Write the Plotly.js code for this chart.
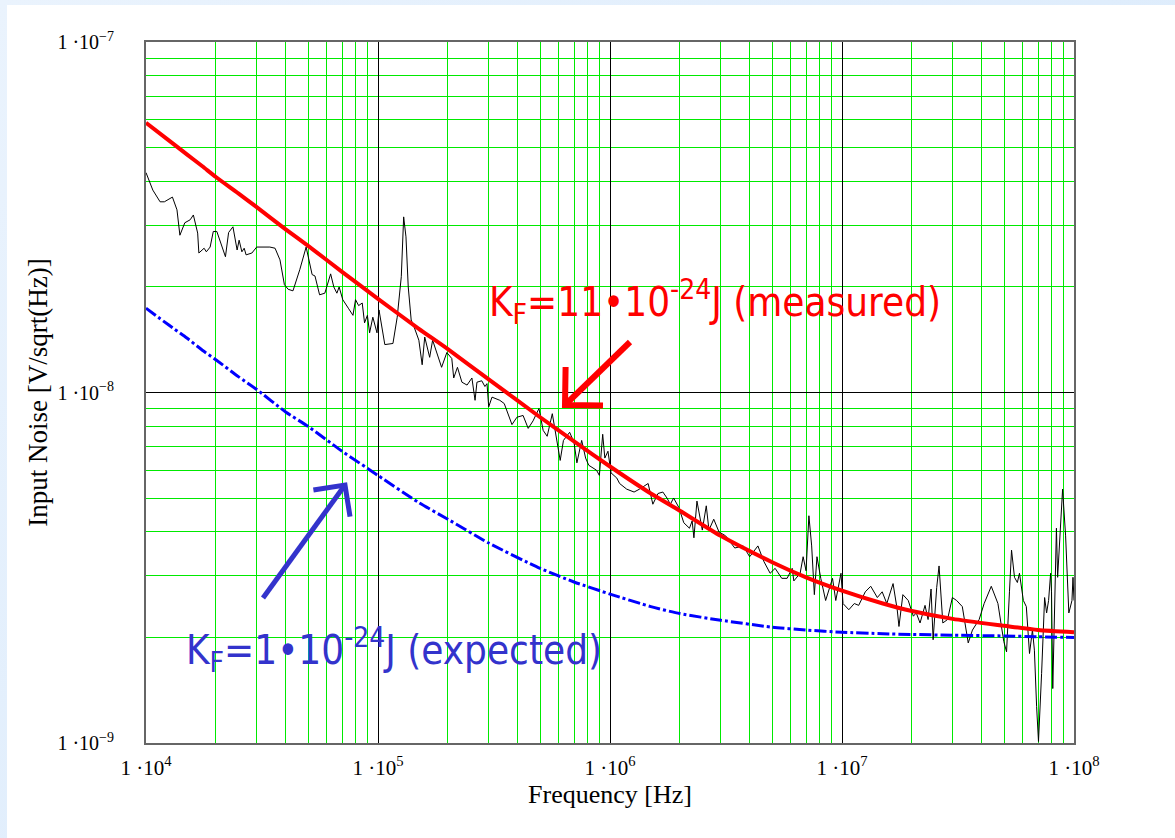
<!DOCTYPE html>
<html>
<head>
<meta charset="utf-8">
<script src="https://cdn.plot.ly/plotly-3.0.1.min.js"></script>
<style>
  html, body { margin: 0; padding: 0; width: 1175px; height: 838px; overflow: hidden;
    background: linear-gradient(135deg, #eaf3fd 0%, #d6e8fb 100%); }
  #chart { position: absolute; left: 7px; top: 5px; width: 1168px; height: 833px; background: #fff; }
</style>
</head>
<body>
<div id="chart"></div>
<script>
// Measured input noise spectrum (black trace)
const freqHz = [
1.0e4,1.07e4,1.15e4,1.2e4,1.3e4,1.36e4,1.4e4,1.47e4,1.55e4,1.6e4,
1.67e4,1.69e4,1.78e4,1.82e4,1.89e4,1.95e4,2.02e4,2.13e4,2.2e4,2.27e4,
2.37e4,2.47e4,2.52e4,2.59e4,2.65e4,2.7e4,2.86e4,3.0e4,3.2e4,3.42e4,
3.6e4,3.78e4,3.95e4,4.1e4,4.3e4,4.6e4,4.9e4,5.05e4,5.2e4,5.35e4,
5.6e4,5.9e4,6.25e4,6.45e4,6.65e4,6.8e4,7.05e4,7.45e4,7.8e4,8.0e4,
8.25e4,8.55e4,8.75e4,9.0e4,9.2e4,9.5e4,9.9e4,1.01e5,1.03e5,1.07e5,
1.16e5,1.21e5,1.26e5,1.29e5,1.32e5,1.35e5,1.39e5,1.43e5,1.5e5,1.55e5,
1.59e5,1.67e5,1.72e5,1.79e5,1.88e5,1.98e5,2.08e5,2.12e5,2.2e5,2.3e5,
2.42e5,2.54e5,2.62e5,2.67e5,2.8e5,2.89e5,2.95e5,3.0e5,3.1e5,3.35e5,
3.5e5,3.78e5,3.97e5,4.22e5,4.44e5,4.66e5,4.94e5,5.15e5,5.36e5,5.64e5,
5.8e5,6.1e5,6.3e5,6.7e5,7.0e5,7.2e5,7.55e5,7.85e5,8.1e5,8.75e5,
9.0e5,9.3e5,9.5e5,9.8e5,1.01e6,1.07e6,1.1e6,1.18e6,1.27e6,1.34e6,
1.46e6,1.53e6,1.61e6,1.69e6,1.76e6,1.82e6,1.88e6,1.98e6,2.08e6,2.2e6,
2.26e6,2.3e6,2.37e6,2.44e6,2.5e6,2.6e6,2.67e6,2.8e6,2.95e6,3.15e6,
3.45e6,3.75e6,4.0e6,4.34e6,4.6e6,4.9e6,5.15e6,5.5e6,5.8e6,6.1e6,
6.2e6,6.6e6,6.8e6,7.0e6,7.2e6,7.4e6,7.6e6,7.8e6,8.1e6,8.5e6,
9.1e6,9.4e6,9.9e6,1.01e7,1.07e7,1.13e7,1.18e7,1.26e7,1.33e7,1.42e7,
1.49e7,1.56e7,1.66e7,1.73e7,1.76e7,1.83e7,1.93e7,2.03e7,2.09e7,2.17e7,
2.28e7,2.35e7,2.42e7,2.47e7,2.56e7,2.62e7,2.72e7,2.85e7,2.99e7,3.12e7,
3.3e7,3.5e7,3.65e7,3.9e7,4.1e7,4.4e7,4.7e7,4.98e7,5.12e7,5.27e7,
5.38e7,5.54e7,5.7e7,5.82e7,6.05e7,6.23e7,6.43e7,6.62e7,6.75e7,6.9e7,
7.03e7,7.25e7,7.47e7,7.62e7,7.77e7,7.93e7,8.0e7,8.1e7,8.25e7,8.4e7,
8.5e7,8.75e7,8.93e7,9.2e7,9.5e7,9.8e7,9.9e7,1.0e8];
const measuredNoise = [
4.24e-8,3.78e-8,3.50e-8,3.50e-8,3.61e-8,3.32e-8,2.81e-8,3.05e-8,3.11e-8,3.21e-8,
2.85e-8,2.50e-8,2.58e-8,2.52e-8,2.60e-8,2.88e-8,2.88e-8,2.60e-8,2.44e-8,2.86e-8,
2.97e-8,2.55e-8,2.72e-8,2.52e-8,2.58e-8,2.47e-8,2.50e-8,2.60e-8,2.60e-8,2.60e-8,
2.58e-8,2.39e-8,2.03e-8,1.97e-8,1.95e-8,2.24e-8,2.60e-8,2.39e-8,2.17e-8,2.15e-8,
1.90e-8,1.92e-8,2.18e-8,2.00e-8,1.92e-8,2.00e-8,1.84e-8,1.74e-8,1.66e-8,1.84e-8,
1.77e-8,1.80e-8,1.58e-8,1.66e-8,1.48e-8,1.64e-8,1.48e-8,1.72e-8,1.58e-8,1.37e-8,
1.38e-8,1.64e-8,2.14e-8,3.17e-8,2.78e-8,2.00e-8,1.61e-8,1.54e-8,1.41e-8,1.20e-8,
1.44e-8,1.26e-8,1.41e-8,1.30e-8,1.18e-8,1.30e-8,1.25e-8,1.10e-8,1.18e-8,1.07e-8,
1.05e-8,1.10e-8,9.5e-9,1.07e-8,1.08e-8,1.04e-8,1.06e-8,9.1e-9,9.7e-9,9.5e-9,
9.3e-9,8.1e-9,8.5e-9,8.6e-9,7.9e-9,8.3e-9,9.0e-9,7.8e-9,7.5e-9,8.7e-9,
7.8e-9,6.4e-9,7.3e-9,7.7e-9,7.2e-9,6.3e-9,7.3e-9,6.5e-9,6.2e-9,6.0e-9,
5.8e-9,7.6e-9,6.5e-9,6.8e-9,5.9e-9,5.7e-9,5.5e-9,5.3e-9,5.2e-9,5.3e-9,
5.5e-9,4.8e-9,5.15e-9,5.2e-9,5.0e-9,4.8e-9,5.0e-9,4.7e-9,4.25e-9,4.1e-9,
4.3e-9,3.85e-9,4.9e-9,4.4e-9,4.05e-9,4.75e-9,4.05e-9,4.35e-9,4.0e-9,3.9e-9,
3.6e-9,3.65e-9,3.4e-9,3.65e-9,3.3e-9,3.05e-9,3.15e-9,2.95e-9,2.95e-9,3.15e-9,
2.9e-9,3.05e-9,3.4e-9,3.1e-9,4.45e-9,3.65e-9,2.65e-9,3.4e-9,2.95e-9,2.55e-9,
2.95e-9,2.55e-9,3.05e-9,2.5e-9,2.4e-9,2.5e-9,2.47e-9,2.7e-9,2.8e-9,2.6e-9,
2.7e-9,2.5e-9,2.85e-9,2.4e-9,2.15e-9,2.65e-9,2.55e-9,2.3e-9,2.35e-9,2.2e-9,
2.47e-9,2.25e-9,2.75e-9,1.97e-9,2.78e-9,3.2e-9,2.2e-9,2.25e-9,2.6e-9,2.55e-9,
2.45e-9,1.93e-9,2.1e-9,2.25e-9,2.5e-9,2.8e-9,2.5e-9,1.95e-9,1.82e-9,2.7e-9,
3.55e-9,2.97e-9,2.87e-9,3.05e-9,2.55e-9,2.45e-9,1.8e-9,2.1e-9,1.84e-9,1.27e-9,
1.01e-9,1.58e-9,2.6e-9,2.35e-9,2.55e-9,3.05e-9,2.7e-9,1.43e-9,2.55e-9,4.1e-9,
2.97e-9,4.2e-9,5.3e-9,3.9e-9,2.35e-9,2.55e-9,2.97e-9,2.55e-9];

// Model curves (red: K_F = 11e-24 J measured fit, blue: K_F = 1e-24 J expected)
const modelFreq = [1e4,1.25e4,1.5e4,1.75e4,2e4,2.5e4,3e4,4e4,5e4,7e4,1e5,1.5e5,2e5,3e5,5e5,7e5,1e6,1.5e6,2e6,3e6,5e6,7e6,1e7,1.5e7,2e7,3e7,5e7,7e7,1e8];
const measuredFit = [5.88e-8,5.25e-8,4.78e-8,4.42e-8,4.12e-8,3.70e-8,3.38e-8,2.92e-8,2.62e-8,2.21e-8,1.85e-8,1.52e-8,1.33e-8,1.09e-8,8.5e-9,7.25e-9,6.15e-9,5.15e-9,4.6e-9,3.9e-9,3.28e-9,2.97e-9,2.72e-9,2.5e-9,2.38e-9,2.26e-9,2.16e-9,2.1e-9,2.07e-9];
const expectedFit = [1.74e-8,1.56e-8,1.43e-8,1.32e-8,1.24e-8,1.11e-8,1.02e-8,8.8e-9,8.0e-9,6.8e-9,5.8e-9,4.85e-9,4.35e-9,3.72e-9,3.15e-9,2.88e-9,2.66e-9,2.45e-9,2.34e-9,2.24e-9,2.14e-9,2.1e-9,2.07e-9,2.05e-9,2.04e-9,2.03e-9,2.02e-9,2.01e-9,2.0e-9];

// Tick labels
const xTickVals = [1e4,1e5,1e6,1e7,1e8];
const xTickText = ['1 ·10<sup>4</sup>','1 ·10<sup>5</sup>','1 ·10<sup>6</sup>','1 ·10<sup>7</sup>','1 ·10<sup>8</sup>'];
const yTickVals = [1e-9,1e-8,1e-7];
const yTickText = ['1 ·10<sup>−9</sup>','1 ·10<sup>−8</sup>','1 ·10<sup>−7</sup>'];

function minorVals(lo, hi) {
  const out = [];
  for (let e = lo; e < hi; e++) for (let k = 2; k <= 9; k++) out.push(k * Math.pow(10, e));
  return out;
}

// Plot-area geometry (page pixels) used only to place the pointer arrows
const PLOT = { left: 146, top: 42, width: 928, height: 701 };
function toPaper(p) { return [(p[0] - PLOT.left) / PLOT.width, 1 - (p[1] - PLOT.top) / PLOT.height]; }
function arrowShapes(tail, tip, armLen, color, width) {
  const dx = tail[0] - tip[0], dy = tail[1] - tip[1];
  const L = Math.hypot(dx, dy), ux = dx / L, uy = dy / L;
  const a = Math.PI / 4, c = Math.cos(a), s = Math.sin(a);
  const arm1 = [tip[0] + armLen * (ux * c - uy * s), tip[1] + armLen * (ux * s + uy * c)];
  const arm2 = [tip[0] + armLen * (ux * c + uy * s), tip[1] + armLen * (-ux * s + uy * c)];
  const P = (p) => { const q = toPaper(p); return q[0].toFixed(5) + ',' + q[1].toFixed(5); };
  const line = { color: color, width: width };
  return [
    { type: 'path', xref: 'paper', yref: 'paper', path: 'M' + P(tail) + ' L' + P(tip), line: line },
    { type: 'path', xref: 'paper', yref: 'paper', path: 'M' + P(arm1) + ' L' + P(tip) + ' L' + P(arm2), line: line }
  ];
}

const traces = [
  { x: freqHz, y: measuredNoise, type: 'scatter', mode: 'lines',
    line: { color: '#000000', width: 1 }, hoverinfo: 'skip' },
  { x: modelFreq, y: expectedFit, type: 'scatter', mode: 'lines',
    line: { color: '#0000ff', width: 3, dash: '12px,3px,3px,3px', shape: 'spline', smoothing: 0.6 }, hoverinfo: 'skip' },
  { x: modelFreq, y: measuredFit, type: 'scatter', mode: 'lines',
    line: { color: '#ff0000', width: 4, shape: 'spline', smoothing: 0.6 }, hoverinfo: 'skip' }
];

const serif = '"Liberation Serif", "Times New Roman", serif';
const narrow = '"DejaVu Sans Condensed", "DejaVu Sans", sans-serif';

const layout = {
  width: 1168, height: 833,
  margin: { l: 139, r: 101, t: 37, b: 95 },
  paper_bgcolor: '#ffffff', plot_bgcolor: '#ffffff',
  showlegend: false,
  xaxis: {
    type: 'log', range: [4, 8],
    tickmode: 'array', tickvals: xTickVals, ticktext: xTickText,
    ticks: '', ticklabelstandoff: 5,
    tickfont: { family: serif, size: 21, color: '#000' },
    showgrid: true, gridcolor: '#000000', gridwidth: 1,
    minor: { tickmode: 'array', tickvals: minorVals(4, 8), showgrid: true, gridcolor: '#00ea00', gridwidth: 1, ticks: '' },
    showline: true, mirror: true, linecolor: '#666666', linewidth: 2,
    zeroline: false,
    title: { text: 'Frequency [Hz]', font: { family: serif, size: 26, color: '#000' }, standoff: 0 }
  },
  yaxis: {
    type: 'log', range: [-9, -7],
    tickmode: 'array', tickvals: yTickVals, ticktext: yTickText,
    ticks: '', ticklabelstandoff: 26,
    tickfont: { family: serif, size: 20, color: '#000' },
    showgrid: true, gridcolor: '#000000', gridwidth: 1,
    minor: { tickmode: 'array', tickvals: minorVals(-9, -7), showgrid: true, gridcolor: '#00ea00', gridwidth: 1, ticks: '' },
    showline: true, mirror: true, linecolor: '#666666', linewidth: 2,
    zeroline: false,
    title: { text: 'Input Noise [V/sqrt(Hz)]', font: { family: serif, size: 27, color: '#000' }, standoff: 2 }
  },
  shapes: [].concat(
    arrowShapes([630, 342], [565, 405], 38, '#ff0000', 6),
    arrowShapes([263, 598], [345, 485], 32, '#3333cc', 5)
  ),
  annotations: [
    { xref: 'paper', yref: 'paper', x: 0.613, y: 0.629, xanchor: 'center', yanchor: 'middle', showarrow: false,
      text: 'K<sub>F</sub>=11•10<sup>-24</sup>J (measured)',
      font: { family: narrow, size: 40, color: '#ff0000' } },
    { xref: 'paper', yref: 'paper', x: 0.267, y: 0.133, xanchor: 'center', yanchor: 'middle', showarrow: false,
      text: 'K<sub>F</sub>=1•10<sup>-24</sup>J (expected)',
      font: { family: narrow, size: 40, color: '#3333cc' } }
  ]
};

Plotly.newPlot('chart', traces, layout, { staticPlot: true, displayModeBar: false });
</script>
</body>
</html>
